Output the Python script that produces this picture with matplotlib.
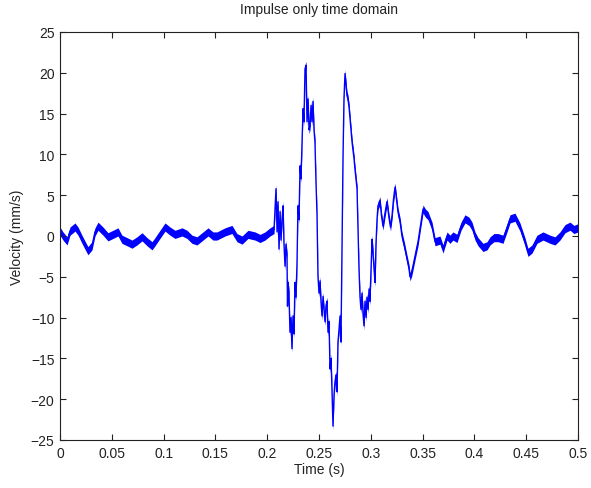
import matplotlib
matplotlib.use("Agg")
import matplotlib.pyplot as plt
import numpy as np

# Impulse response: time (s) and velocity (mm/s)
time_s = [
    0.0000, 0.0029, 0.0068, 0.0097, 0.0145, 0.0174, 0.0212, 0.0261, 0.0270, 0.0309,
    0.0338, 0.0367, 0.0415, 0.0463, 0.0512, 0.0560, 0.0598, 0.0647, 0.0695, 0.0743,
    0.0792, 0.0840, 0.0888, 0.0917, 0.0965, 0.1014, 0.1062, 0.1110, 0.1178, 0.1226,
    0.1274, 0.1322, 0.1371, 0.1429, 0.1477, 0.1515, 0.1593, 0.1660, 0.1708, 0.1757,
    0.1815, 0.1882, 0.1931, 0.1979, 0.2027, 0.2066,
    0.2085, 0.2095, 0.2104, 0.2114, 0.2124, 0.2133, 0.2143, 0.2153, 0.2162, 0.2172,
    0.2181, 0.2191, 0.2196, 0.2201, 0.2210, 0.2220, 0.2230, 0.2239, 0.2249, 0.2259,
    0.2268, 0.2278, 0.2288, 0.2297, 0.2307, 0.2317, 0.2326, 0.2336, 0.2346, 0.2355,
    0.2365, 0.2375, 0.2384, 0.2394, 0.2404, 0.2413, 0.2423, 0.2432, 0.2442, 0.2452,
    0.2461, 0.2471, 0.2481, 0.2490, 0.2500, 0.2510, 0.2519, 0.2529, 0.2539, 0.2548,
    0.2558, 0.2568, 0.2577, 0.2587, 0.2597, 0.2606, 0.2616, 0.2625, 0.2635, 0.2645,
    0.2654, 0.2664, 0.2674, 0.2683, 0.2693, 0.2703, 0.2712, 0.2722, 0.2732, 0.2741,
    0.2751, 0.2761, 0.2770, 0.2780, 0.2790, 0.2799, 0.2819, 0.2838, 0.2847, 0.2867,
    0.2876, 0.2886, 0.2896, 0.2905, 0.2915, 0.2925, 0.2934, 0.2944, 0.2954, 0.2963,
    0.2973, 0.2983, 0.2992, 0.3002, 0.3012, 0.3021, 0.3031, 0.3041, 0.3050, 0.3060,
    0.3069, 0.3089, 0.3103, 0.3118, 0.3137, 0.3156, 0.3176, 0.3190, 0.3205, 0.3219,
    0.3234, 0.3248, 0.3263, 0.3282, 0.3301, 0.3325, 0.3349, 0.3369, 0.3378, 0.3393,
    0.3407, 0.3431, 0.3456, 0.3480, 0.3504, 0.3528, 0.3552, 0.3591, 0.3620, 0.3668,
    0.3697, 0.3736, 0.3764, 0.3793, 0.3832, 0.3871, 0.3909, 0.3948, 0.3977, 0.4006,
    0.4035, 0.4083, 0.4122, 0.4151, 0.4189, 0.4228, 0.4276, 0.4315, 0.4344, 0.4392,
    0.4440, 0.4488, 0.4517, 0.4556, 0.4604, 0.4662, 0.4730, 0.4778, 0.4826, 0.4875,
    0.4923, 0.4961, 0.5000,
]

velocity_mm_s = [
    0.6, 0.0, -0.6, 0.6, 1.1, 0.6, -0.4, -1.6, -1.8, -1.2,
    0.5, 1.2, 0.6, -0.1, 0.2, 0.5, -0.4, -0.7, -1.0, -0.6,
    -0.1, -0.7, -1.2, -0.7, 0.2, 1.1, 0.6, 0.2, 0.5, 0.2,
    -0.4, -0.6, -0.1, 0.5, 0.0, 0.0, 0.5, 0.8, -0.2, -0.5,
    0.2, 0.0, -0.3, 0.0, 0.5, 0.8,
    5.8, 0.5, 4.2, -1.6, 3.0, -0.5, 2.0, 3.7, -1.0, -3.7,
    -1.0, -2.4, -8.6, -5.7, -7.0, -11.8, -10.0, -13.8, -9.8, -12.0,
    -5.7, -7.5, -3.2, 3.7, 2.0, 8.6, 7.0, 11.5, 15.6, 14.0,
    20.5, 20.9, 14.0, 16.8, 13.0, 13.5, 16.0, 14.0, 16.5, 13.0,
    11.5, 6.6, 2.5, -4.9, -7.0, -5.5, -8.0, -9.8, -7.4, -9.0,
    -10.5, -8.5, -8.0, -11.8, -10.5, -16.3, -15.0, -18.7, -23.3, -19.5,
    -17.9, -17.0, -19.1, -13.0, -11.5, -9.8, -13.0, -1.6, 9.8, 16.8,
    19.9, 18.5, 17.2, 16.8, 15.8, 14.5, 11.5, 9.5, 8.2, 5.8,
    1.0, -4.0, -7.5, -9.0, -7.0, -9.5, -11.0, -8.0, -10.0, -7.5,
    -9.0, -6.5, -8.0, -4.0, -0.4, -2.0, -4.0, -5.7, -1.0, 2.0,
    3.7, 4.3, 2.5, 1.2, 2.8, 4.2, 2.2, 1.1, 2.5, 4.5,
    6.0, 4.5, 2.9, 1.8, 0.0, -1.3, -2.8, -4.0, -5.0, -4.5,
    -3.7, -2.2, -0.7, 1.3, 3.3, 2.8, 2.5, 1.2, -0.7, -0.5,
    -1.6, 0.0, -0.4, 0.0, -0.3, 1.2, 2.1, 1.8, 1.2, 0.0,
    -0.7, -1.4, -1.2, -0.6, -0.2, -0.2, -0.4, 1.0, 2.1, 2.3,
    1.1, -0.7, -2.0, -1.6, -0.4, 0.0, -0.4, -0.6, 0.0, 0.9,
    1.2, 0.8, 1.0,
]

x_ticks = [0, 0.05, 0.1, 0.15, 0.2, 0.25, 0.3, 0.35, 0.4, 0.45, 0.5]
x_tick_labels = ["0", "0.05", "0.1", "0.15", "0.2", "0.25", "0.3", "0.35", "0.4", "0.45", "0.5"]
y_ticks = [-25, -20, -15, -10, -5, 0, 5, 10, 15, 20, 25]

plt.rcParams["font.family"] = ["Liberation Sans", "DejaVu Sans"]

fig = plt.figure(figsize=(5.91, 4.89), dpi=100, facecolor="white")
ax = fig.add_axes([60 / 591, 48 / 489, 518 / 591, 408 / 489])

t = np.asarray(time_s)
v = np.asarray(velocity_mm_s)

# measurement noise shows as a vertical band around the signal
band = 0.5
ax.fill_between(t, v - band, v + band, color="#0000ff", linewidth=0)
ax.plot(t, v, color="#0000ff", linewidth=1.0)

ax.set_xlim(0, 0.5)
ax.set_ylim(-25, 25)
ax.set_xticks(x_ticks)
ax.set_xticklabels(x_tick_labels)
ax.set_yticks(y_ticks)

ax.tick_params(direction="in", length=4, width=0.8, top=True, right=True,
               labelsize=10, colors="#222222", pad=4)
for s in ax.spines.values():
    s.set_linewidth(0.8)
    s.set_color("#222222")

ax.set_title("Impulse only time domain", fontsize=10, color="#222222", pad=14)
ax.set_xlabel("Time (s)", fontsize=10, color="#222222", labelpad=2)
ax.set_ylabel("Velocity (mm/s)", fontsize=10, color="#222222", labelpad=5)

fig.savefig("out.png", dpi=100, facecolor="white")
